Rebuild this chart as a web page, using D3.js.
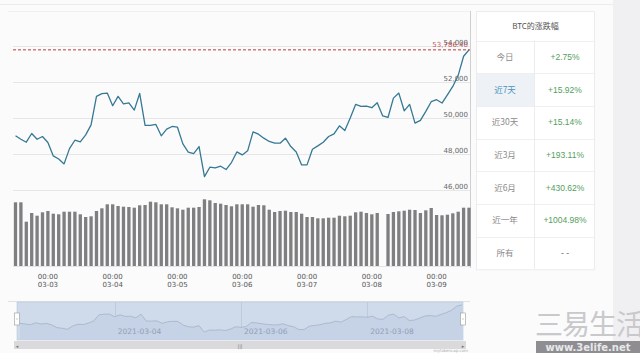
<!DOCTYPE html>
<html>
<head>
<meta charset="utf-8">
<script src="https://cdn.jsdelivr.net/npm/d3@7"></script>
<style>
  body { margin: 0; background: #fbfbfc; }
  svg { display: block; font-family: "DejaVu Sans", sans-serif; }
</style>
</head>
<body>
<svg id="chart" width="640" height="353"></svg>
<script>
// BTC price every 2 hours, 2021-03-02 12:00 -> 2021-03-09 12:00
var startTime = new Date(2021, 2, 2, 12);
var endTime = new Date(2021, 2, 9, 12);

var prices = [49010, 48820, 48655, 49140, 48820, 48970, 48640, 47895, 47725, 47450,
  48300, 48765, 48675, 49065, 49620, 51200, 51350, 51385, 50680, 51200,
  50790, 50845, 50440, 51365, 49585, 49585, 49640, 49010, 49380, 49530,
  49490, 48565, 48100, 48025, 48415, 46745, 47265, 47225, 47320, 47135,
  47525, 48115, 47950, 48175, 49230, 49100, 48880, 48695, 48600, 48600,
  48880, 48415, 48115, 47395, 47395, 48265, 48450, 48655, 48970, 49120,
  49565, 49305, 49995, 50755, 50645, 50660, 50570, 50845, 50120, 50030,
  51105, 51385, 50400, 50755, 49715, 49865, 50365, 50905, 51015, 50830,
  51290, 51755, 52370, 53430, 53786.4];

// volume (billion USD), one bar missing
var volumes = [6.37, 6.37, 4.43, 5.30, 5.03, 5.37, 5.50, 5.23, 5.17, 5.43,
  5.43, 5.43, 5.17, 4.90, 4.97, 5.50, 5.77, 6.17, 6.17, 6.00,
  5.93, 5.90, 5.83, 6.07, 6.10, 6.43, 6.37, 6.17, 6.17, 5.87,
  5.77, 5.63, 5.83, 5.83, 5.90, 6.67, 6.57, 6.30, 6.23, 6.10,
  5.97, 6.17, 6.17, 6.17, 5.93, 6.10, 6.07, 5.63, 5.40, 5.50,
  5.53, 5.40, 5.40, 5.23, 4.90, 4.90, 4.77, 4.77, 4.83, 4.83,
  5.03, 4.97, 5.03, 5.37, 5.43, 5.30, 5.17, 5.30, null, 5.20,
  5.40, 5.47, 5.53, 5.63, 5.60, 5.30, 5.57, 5.80, 5.10, 5.07,
  5.13, 5.27, 5.43, 5.83, 5.83];

var priceTicks = [46000, 48000, 50000, 52000, 54000];
var navTicks = [new Date(2021, 2, 4), new Date(2021, 2, 6), new Date(2021, 2, 8)];

var tableTitle = "BTC的涨跌幅";
var periods = ["今日", "近7天", "近30天", "近3月", "近6月", "近一年", "所有"];
var changes = ["+2.75%", "+15.92%", "+15.14%", "+193.11%", "+430.62%", "+1004.98%", "- -"];
var activeRow = 1;

var times = d3.timeHour.every(2).range(startTime, d3.timeHour.offset(endTime, 1));
var data = times.map(function(t, i) {
  return { t: t, price: prices[i], vol: volumes[i] };
});

var svg = d3.select("#chart");

// page background pieces
svg.append("rect").attr("x", 613).attr("y", 0).attr("width", 27).attr("height", 353).attr("fill", "#f0f0f2");
svg.append("line").attr("x1", 0).attr("x2", 613).attr("y1", 4.5).attr("y2", 4.5).attr("stroke", "#ececee");
svg.append("line").attr("x1", 8).attr("x2", 470).attr("y1", 11.5).attr("y2", 11.5).attr("stroke", "#f0f0f2");
svg.append("line").attr("x1", 470.5).attr("x2", 470.5).attr("y1", 11).attr("y2", 268).attr("stroke", "#cfcfd2");

var x = d3.scaleTime().domain([startTime, endTime]).range([15.5, 469]);
var y = d3.scaleLinear().domain([46000, 54000]).range([190, 46]);
var yVol = d3.scaleLinear().domain([0, 7]).range([266, 196]);

// grid
svg.selectAll(".grid")
  .data(priceTicks)
  .enter().append("line")
  .attr("class", "grid")
  .attr("x1", 13).attr("x2", 470)
  .attr("y1", function(d) { return Math.round(y(d)) + 0.5; })
  .attr("y2", function(d) { return Math.round(y(d)) + 0.5; })
  .attr("stroke", "#e6e6e9");

svg.selectAll(".ylab")
  .data(priceTicks)
  .enter().append("text")
  .attr("class", "ylab")
  .attr("x", 468)
  .attr("y", function(d) { return y(d) - 1.5; })
  .attr("text-anchor", "end")
  .attr("font-size", "7px")
  .attr("fill", "#666")
  .text(d3.format(","));

// volume bars
var barW = 3.3;
svg.selectAll(".bar")
  .data(data.filter(function(d) { return d.vol != null; }))
  .enter().append("rect")
  .attr("class", "bar")
  .attr("x", function(d) { return x(d.t) - barW / 2; })
  .attr("y", function(d) { return yVol(d.vol); })
  .attr("width", barW)
  .attr("height", function(d) { return yVol(0) - yVol(d.vol); })
  .attr("fill", "#7f7f81");

svg.append("line").attr("x1", 13).attr("x2", 470).attr("y1", 266.5).attr("y2", 266.5).attr("stroke", "#e4e4e6");

// price line
var line = d3.line()
  .x(function(d) { return x(d.t); })
  .y(function(d) { return y(d.price); });

svg.append("path")
  .datum(data)
  .attr("d", line)
  .attr("fill", "none")
  .attr("stroke", "#357894")
  .attr("stroke-width", 1.3)
  .attr("stroke-linejoin", "round");

// last price marker
var last = prices[prices.length - 1];
svg.append("line")
  .attr("x1", 13).attr("x2", 470)
  .attr("y1", y(last)).attr("y2", y(last))
  .attr("stroke", "#b83a3a")
  .attr("stroke-width", 1)
  .attr("stroke-dasharray", "3,2");
svg.append("text")
  .attr("x", 468).attr("y", y(last) - 2.5)
  .attr("text-anchor", "end")
  .attr("font-size", "7px")
  .attr("fill", "#b83a3a")
  .attr("fill-opacity", 0.85)
  .text(d3.format(",.2f")(last));

// x axis labels
var dayTicks = d3.timeDay.range(d3.timeDay.ceil(startTime), endTime);
var xlab = svg.selectAll(".xlab")
  .data(dayTicks)
  .enter().append("text")
  .attr("class", "xlab")
  .attr("text-anchor", "middle")
  .attr("font-size", "7px")
  .attr("fill", "#555");
xlab.append("tspan")
  .attr("x", function(d) { return x(d); })
  .attr("y", 278.5)
  .text(d3.timeFormat("%H:%M"));
xlab.append("tspan")
  .attr("x", function(d) { return x(d); })
  .attr("y", 287)
  .text(d3.timeFormat("%m-%d"));

// navigator
var xNav = d3.scaleTime().domain([startTime, endTime]).range([20, 462]);
var yNav = d3.scaleLinear().domain([46500, 54000]).range([333, 304]);

svg.append("line").attr("x1", 8).attr("x2", 470).attr("y1", 301.5).attr("y2", 301.5).attr("stroke", "#e2e2e6");
svg.append("rect")
  .attr("x", 17).attr("y", 302).attr("width", 446).attr("height", 38)
  .attr("fill", "#cfdaeb").attr("stroke", "#b9c6da").attr("stroke-width", 0.6);

svg.selectAll(".navgrid")
  .data(navTicks)
  .enter().append("line")
  .attr("class", "navgrid")
  .attr("x1", function(d) { return Math.round(xNav(d)) + 0.5; })
  .attr("x2", function(d) { return Math.round(xNav(d)) + 0.5; })
  .attr("y1", 302).attr("y2", 340)
  .attr("stroke", "#bccadf");

var navArea = d3.area()
  .x(function(d) { return xNav(d.t); })
  .y0(340)
  .y1(function(d) { return yNav(d.price); });
svg.append("path").datum(data).attr("d", navArea).attr("fill", "#c6d2e5");
svg.append("path")
  .datum(data)
  .attr("d", d3.line().x(function(d) { return xNav(d.t); }).y(function(d) { return yNav(d.price); }))
  .attr("fill", "none")
  .attr("stroke", "#a3b2c9")
  .attr("stroke-width", 0.8);

svg.selectAll(".navlab")
  .data(navTicks)
  .enter().append("text")
  .attr("class", "navlab")
  .attr("x", function(d) { return xNav(d) + 3; })
  .attr("y", 334)
  .attr("font-size", "7.5px")
  .attr("fill", "#8e9fba")
  .text(d3.timeFormat("%Y-%m-%d"));

// handles
[17, 463].forEach(function(hx) {
  svg.append("rect").attr("x", hx - 2.5).attr("y", 313).attr("width", 5).attr("height", 12)
    .attr("fill", "#fff").attr("stroke", "#999").attr("stroke-width", 0.6);
  svg.append("line").attr("x1", hx - 1).attr("x2", hx + 1).attr("y1", 319).attr("y2", 319).attr("stroke", "#999").attr("stroke-width", 0.5);
});

// scroll bar
svg.append("rect").attr("x", 14).attr("y", 341).attr("width", 452).attr("height", 8).attr("fill", "#dadadc");
svg.append("text").attr("x", 17).attr("y", 347.5).attr("font-size", "5px").attr("fill", "#777").attr("text-anchor", "middle").text("◂");
svg.append("text").attr("x", 463).attr("y", 347.5).attr("font-size", "5px").attr("fill", "#777").attr("text-anchor", "middle").text("▸");
svg.append("text").attr("x", 240).attr("y", 347.5).attr("font-size", "5px").attr("fill", "#777").attr("text-anchor", "middle").text("|||");
svg.append("text").attr("x", 468).attr("y", 352).attr("font-size", "4px").attr("fill", "#aaa").attr("text-anchor", "end").text("mytokencap.com");

// change table
var tX = 476, tW = 118, tY = 11, headH = 29.7, rowH = 32.65, colX = 534;
var tbl = svg.append("g");
tbl.append("rect").attr("x", tX + 0.5).attr("y", tY + 0.5).attr("width", tW).attr("height", headH + rowH * periods.length)
  .attr("fill", "#fff").attr("stroke", "#ececef");
tbl.append("rect").attr("x", tX + 1).attr("y", tY + headH + rowH * activeRow + 0.5).attr("width", colX - tX - 1).attr("height", rowH)
  .attr("fill", "#eef2f6");
tbl.append("text").attr("x", tX + tW / 2 + 0.5).attr("y", tY + headH / 2 + 3)
  .attr("text-anchor", "middle").attr("font-size", "8px").attr("fill", "#555")
  .attr("font-family", "Noto Sans CJK SC").text(tableTitle);
tbl.selectAll(".hline")
  .data(periods)
  .enter().append("line")
  .attr("x1", tX + 1).attr("x2", tX + tW)
  .attr("y1", function(d, i) { return Math.round(tY + headH + rowH * i) + 0.5; })
  .attr("y2", function(d, i) { return Math.round(tY + headH + rowH * i) + 0.5; })
  .attr("stroke", "#efeff1");
tbl.append("line").attr("x1", colX + 0.5).attr("x2", colX + 0.5).attr("y1", tY + headH).attr("y2", tY + headH + rowH * periods.length)
  .attr("stroke", "#ececef");
tbl.selectAll(".period")
  .data(periods)
  .enter().append("text")
  .attr("x", (tX + colX) / 2)
  .attr("y", function(d, i) { return tY + headH + rowH * i + rowH / 2 + 3; })
  .attr("text-anchor", "middle")
  .attr("font-size", "8.5px")
  .attr("font-family", "Noto Sans CJK SC")
  .attr("fill", function(d, i) { return i === activeRow ? "#4b93bd" : "#8a8a8a"; })
  .text(function(d) { return d; });
tbl.selectAll(".change")
  .data(changes)
  .enter().append("text")
  .attr("x", (colX + tX + tW) / 2 + 1)
  .attr("y", function(d, i) { return tY + headH + rowH * i + rowH / 2 + 3; })
  .attr("text-anchor", "middle")
  .attr("font-size", "8.5px")
  .attr("font-family", "Liberation Sans")
  .attr("fill", function(d) { return d.charAt(0) === "+" ? "#54a05e" : "#666"; })
  .text(function(d) { return d; });

// watermark
svg.append("text").attr("x", 535).attr("y", 335).attr("font-size", "28px").attr("font-family", "Noto Sans CJK SC")
  .attr("fill", "#c9c9cc").attr("letter-spacing", "-1px").text("三易生活");
svg.append("rect").attr("x", 536).attr("y", 341).attr("width", 104).attr("height", 12).attr("fill", "#8e8e92");
svg.append("text").attr("x", 588).attr("y", 351).attr("text-anchor", "middle").attr("font-size", "10px")
  .attr("font-weight", "bold").attr("fill", "#e8e8ea").text("www.3elife.net");
</script>
</body>
</html>
